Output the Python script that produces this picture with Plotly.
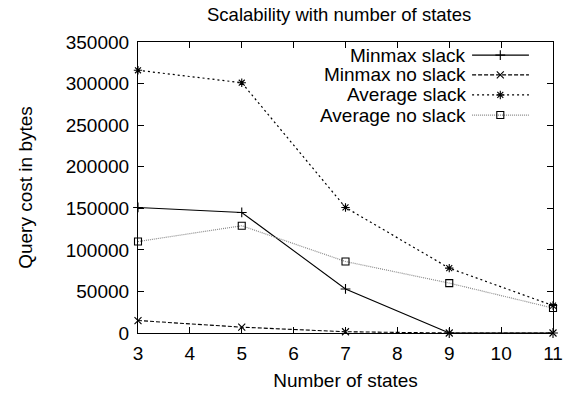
import plotly.graph_objects as go

states = [3, 5, 7, 9, 11]
minmax_slack = [151000, 145000, 53000, 0, 0]
minmax_no_slack = [15000, 7000, 1500, 0, 0]
average_slack = [316000, 301000, 151000, 78000, 33000]
average_no_slack = [110000, 129000, 86000, 60000, 30000]

series_names = ["Minmax slack", "Minmax no slack", "Average slack", "Average no slack"]
series_values = [minmax_slack, minmax_no_slack, average_slack, average_no_slack]
styles = [
    dict(color="black", dash="solid", symbol="cross-thin-open", width=1.1),
    dict(color="black", dash="4px,2px", symbol="x-thin-open", width=1.1),
    dict(color="black", dash="2px,3px", symbol="asterisk-open", width=1.2),
    dict(color="#8a8a8a", dash="1px,1px", symbol="square-open", width=1.2),
]

FONT = "Liberation Sans, Arial, sans-serif"
fig = go.Figure()

for name, vals, st in zip(series_names, series_values, styles):
    fig.add_trace(go.Scatter(
        x=states, y=vals, mode="lines+markers", name=name,
        line=dict(color=st["color"], dash=st["dash"], width=st["width"]),
        marker=dict(symbol=st["symbol"], size=7, color="black",
                    line=dict(color="black", width=1.1)),
        showlegend=False, cliponaxis=False,
    ))

# Legend drawn gnuplot-style (text right, sample on the right)
leg_rows = [0.955, 0.887, 0.818, 0.749]
for name, st, ry in zip(series_names, styles, leg_rows):
    fig.add_trace(go.Scatter(
        x=[0.805, 0.873, 0.942], y=[ry, ry, ry], xaxis="x2", yaxis="y2",
        mode="lines", line=dict(color=st["color"], dash=st["dash"], width=st["width"]),
        showlegend=False, hoverinfo="skip",
    ))
    fig.add_trace(go.Scatter(
        x=[0.873], y=[ry], xaxis="x2", yaxis="y2", mode="markers",
        marker=dict(symbol=st["symbol"], size=7, color="black",
                    line=dict(color="black", width=1.1)),
        showlegend=False, hoverinfo="skip",
    ))
    fig.add_annotation(
        x=0.795, y=ry, xref="x2", yref="y2", text=name, showarrow=False,
        xanchor="right", yanchor="middle",
        font=dict(family=FONT, size=19, color="black"),
    )

fig.add_annotation(
    text="Scalability with number of states", xref="paper", yref="paper",
    x=0.4844, y=1.096, xanchor="center", yanchor="middle", showarrow=False,
    font=dict(family=FONT, size=18.5, color="black"),
)

axis_common = dict(
    showgrid=False, zeroline=False, showline=True, linecolor="black", linewidth=1.2,
    mirror="ticks", ticks="inside", ticklen=6, tickcolor="black", tickwidth=1,
    tickfont=dict(family=FONT, size=19, color="black"), automargin=False,
)

fig.update_layout(
    width=574, height=395,
    margin=dict(l=138, r=21, t=42, b=62),
    paper_bgcolor="white", plot_bgcolor="white",
    xaxis=dict(range=[3, 11], tickvals=[3, 4, 5, 6, 7, 8, 9, 10, 11],
               ticklabelstandoff=3,
               title=dict(text="Number of states", standoff=10,
                          font=dict(family=FONT, size=19, color="black")),
               **axis_common),
    yaxis=dict(range=[0, 350000], tickvals=[0, 50000, 100000, 150000, 200000, 250000, 300000, 350000],
               tickformat="d", ticklabelstandoff=4,
               title=dict(text="Query cost in bytes", standoff=28,
                          font=dict(family=FONT, size=19, color="black")),
               **axis_common),
    xaxis2=dict(overlaying="x", range=[0, 1], visible=False),
    yaxis2=dict(overlaying="y", range=[0, 1], visible=False),
)

fig.write_html("out.html", config={"displayModeBar": False},
               post_script="document.body.style.margin='0';")
